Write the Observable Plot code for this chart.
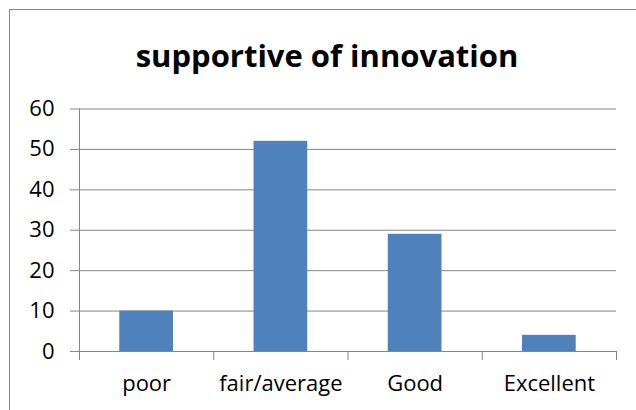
<!DOCTYPE html>
<html>
<head>
<meta charset="utf-8">
<script src="https://cdn.jsdelivr.net/npm/d3@7"></script>
<script src="https://cdn.jsdelivr.net/npm/@observablehq/plot@0.6"></script>
<style>
  html, body { margin: 0; padding: 0; background: #fff; }
  #wrap { position: relative; width: 636px; height: 410px; overflow: hidden; font-family: "Open Sans", sans-serif; }
  #border { position: absolute; left: 9px; top: 9px; width: 700px; height: 500px; border: 1px solid #8a8a8a; box-sizing: border-box; }
  #title { position: absolute; left: 0; width: 654px; top: 40px; text-align: center; font-size: 31px; line-height: 31px; font-weight: bold; color: #000; }
  #chart { position: absolute; left: 0; top: 0; }
</style>
</head>
<body>
<div id="wrap">
  <div id="border"></div>
  <div id="title">supportive of innovation</div>
  <div id="chart"></div>
</div>
<script>
const categories = ["poor", "fair/average", "Good", "Excellent"];
const values = [10, 52, 29, 4];
const yTicks = [0, 10, 20, 30, 40, 50, 60];
const boundaryTicks = [0, 1, 2, 3, 4];
const labelTicks = [0.5, 1.5, 2.5, 3.5];

const data = categories.map((c, i) => ({category: c, index: i, value: values[i]}));
const gray = "#868686";

const chart = Plot.plot({
  width: 636,
  height: 410,
  marginLeft: 79,
  marginRight: 20,
  marginTop: 108.5,
  marginBottom: 59,
  style: {fontFamily: "'Open Sans', sans-serif", fontSize: "22px", background: "transparent", color: "#000"},
  x: {domain: [0, 4], axis: null},
  y: {domain: [0, 60], axis: null},
  marks: [
    Plot.ruleY(yTicks, {stroke: gray, strokeWidth: 1}),
    Plot.ruleX([0], {y1: 0, y2: 60, stroke: gray, strokeWidth: 1}),
    Plot.axisY({ticks: yTicks, tickSize: 9, tickPadding: 16, stroke: gray, fill: "#000", strokeOpacity: 1, label: null, fontSize: 22}),
    Plot.axisX({ticks: boundaryTicks, tickSize: 9, tickFormat: () => "", stroke: gray, strokeOpacity: 1, label: null}),
    Plot.axisX({ticks: labelTicks, tickSize: 0, tickPadding: 24, tickFormat: d => categories[Math.floor(d)], fill: "#000", label: null, fontSize: 22}),
    Plot.rectY(data, {x1: d => d.index + 0.3, x2: d => d.index + 0.7, y: "value", fill: "#4F81BD"})
  ]
});
document.getElementById("chart").appendChild(chart);
</script>
</body>
</html>
